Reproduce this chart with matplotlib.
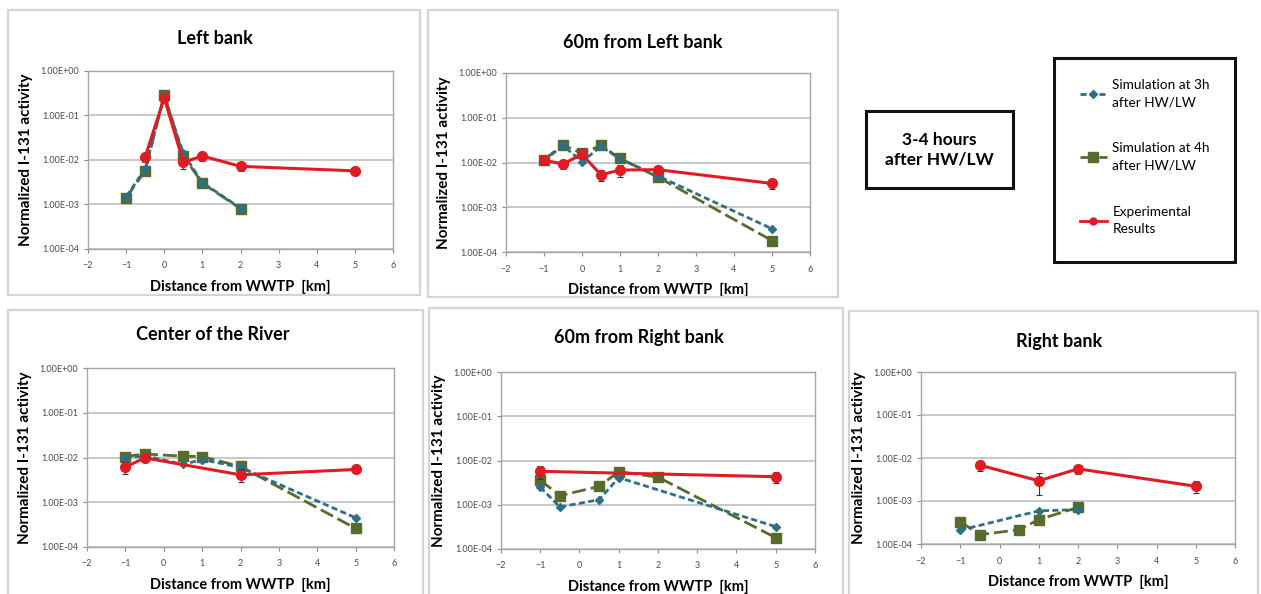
import matplotlib
matplotlib.use("Agg")
import matplotlib.pyplot as plt
from matplotlib.patches import Rectangle
from matplotlib.lines import Line2D
from matplotlib.ticker import FixedLocator, FixedFormatter, NullLocator

plt.rcParams['font.family'] = ['Lato', 'DejaVu Sans']

W, H = 1261, 594

# ---------------- data ----------------
panel_titles = ["Left bank", "60m from Left bank", "Center of the River",
                "60m from Right bank", "Right bank"]

# Panel 1: Left bank
lb_sim3_x = [-1, -0.5, 0, 0.5, 1, 2]
lb_sim3_y = [1.5e-3, 6.3e-3, 0.28, 0.014, 3.1e-3, 8.3e-4]
lb_sim4_x = [-1, -0.5, 0, 0.5, 1, 2]
lb_sim4_y = [1.43e-3, 5.7e-3, 0.295, 0.0123, 3.0e-3, 8.1e-4]
lb_exp_x = [-0.5, 0, 0.5, 1, 2, 5]
lb_exp_y = [0.0117, 0.25, 8.9e-3, 0.0123, 7.2e-3, 5.7e-3]
lb_exp_err = [2.5e-3, 0.04, 2.5e-3, 3.0e-3, 1.5e-3, 1.2e-3]

# Panel 2: 60m from Left bank
l60_sim3_x = [-1, -0.5, 0, 0.5, 1, 2, 5]
l60_sim3_y = [0.011, 0.024, 0.0104, 0.023, 0.012, 5.0e-3, 3.3e-4]
l60_sim4_x = [-1, -0.5, 0, 0.5, 1, 2, 5]
l60_sim4_y = [0.0115, 0.0247, 0.016, 0.024, 0.0123, 4.7e-3, 1.8e-4]
l60_exp_x = [-1, -0.5, 0, 0.5, 1, 2, 5]
l60_exp_y = [0.0112, 9.3e-3, 0.0152, 5.3e-3, 6.8e-3, 6.9e-3, 3.4e-3]
l60_exp_err = [2.5e-3, 2.0e-3, 3.0e-3, 1.5e-3, 2.0e-3, 1.5e-3, 8e-4]

# Panel 3: Center of the River
c_sim3_x = [-1, -0.5, 0.5, 1, 2, 5]
c_sim3_y = [9.5e-3, 0.011, 7.0e-3, 9.0e-3, 6.0e-3, 4.5e-4]
c_sim4_x = [-1, -0.5, 0.5, 1, 2, 5]
c_sim4_y = [0.0105, 0.012, 0.0107, 0.0105, 6.3e-3, 2.6e-4]
c_exp_x = [-1, -0.5, 2, 5]
c_exp_y = [6.1e-3, 9.8e-3, 4.1e-3, 5.4e-3]
c_exp_err = [1.8e-3, 2.0e-3, 1.3e-3, 1.0e-3]

# Panel 4: 60m from Right bank
r60_sim3_x = [-1, -0.5, 0.5, 1, 5]
r60_sim3_y = [2.5e-3, 8.9e-4, 1.3e-3, 4.1e-3, 3.2e-4]
r60_sim4_x = [-1, -0.5, 0.5, 1, 2, 5]
r60_sim4_y = [3.6e-3, 1.6e-3, 2.6e-3, 5.6e-3, 4.2e-3, 1.8e-4]
r60_exp_x = [-1, 5]
r60_exp_y = [5.7e-3, 4.3e-3]
r60_exp_err = [1.8e-3, 1.2e-3]

# Panel 5: Right bank
rb_sim3_x = [-1, 1, 2]
rb_sim3_y = [2.1e-4, 5.9e-4, 6.3e-4]
rb_sim4_x = [-1, -0.5, 0.5, 1, 2]
rb_sim4_y = [3.3e-4, 1.65e-4, 2.15e-4, 3.7e-4, 7.1e-4]
rb_exp_x = [-0.5, 1, 2, 5]
rb_exp_y = [6.8e-3, 2.95e-3, 5.6e-3, 2.2e-3]
rb_exp_err = [1.8e-3, 1.6e-3, 1.3e-3, 7e-4]

x_ticks = [-2, -1, 0, 1, 2, 3, 4, 5, 6]
y_ticks = [1e-4, 1e-3, 1e-2, 1e-1, 1e0]
y_tick_labels = ["1.00E-04", "1.00E-03", "1.00E-02", "1.00E-01", "1.00E+00"]

legend_labels = ["Simulation at 3h\nafter HW/LW", "Simulation at 4h\nafter HW/LW",
                 "Experimental\nResults"]
box_text = "3-4 hours\nafter HW/LW"
xlabel = "Distance from WWTP  [km]"
ylabel = "Normalized I-131 activity"

# ---------------- styles ----------------
C_SIM3 = "#2f6f86"
C_SIM4 = "#566b2c"
C_EXP = "#e01b22"
GRID = "#bfbfbf"

def fbox(x0, y0, x1, y1):
    return [x0 / W, 1 - y1 / H, (x1 - x0) / W, (y1 - y0) / H]

fig = plt.figure(figsize=(W / 100, H / 100), dpi=100)
fig.patch.set_facecolor("white")

panels = [
    dict(frame=(8, 10, 420, 295), ax=(88, 71, 393, 249), title=(215, 38),
         data=(lb_sim3_x, lb_sim3_y, lb_sim4_x, lb_sim4_y, lb_exp_x, lb_exp_y, lb_exp_err)),
    dict(frame=(428, 10, 838, 297), ax=(506, 73, 810, 252), title=(643, 42),
         data=(l60_sim3_x, l60_sim3_y, l60_sim4_x, l60_sim4_y, l60_exp_x, l60_exp_y, l60_exp_err)),
    dict(frame=(8, 310, 423, 600), ax=(87, 368, 394, 547), title=(213, 334),
         data=(c_sim3_x, c_sim3_y, c_sim4_x, c_sim4_y, c_exp_x, c_exp_y, c_exp_err)),
    dict(frame=(429, 308, 843, 600), ax=(501, 372, 815, 549), title=(639, 337),
         data=(r60_sim3_x, r60_sim3_y, r60_sim4_x, r60_sim4_y, r60_exp_x, r60_exp_y, r60_exp_err)),
    dict(frame=(849, 311, 1258, 600), ax=(921, 372, 1235, 544), title=(1059, 342),
         data=(rb_sim3_x, rb_sim3_y, rb_sim4_x, rb_sim4_y, rb_exp_x, rb_exp_y, rb_exp_err)),
]

for i, p in enumerate(panels):
    fx0, fy0, fx1, fy1 = p["frame"]
    fig.patches.append(Rectangle((fx0 / W, 1 - fy1 / H), (fx1 - fx0) / W, (fy1 - fy0) / H,
                                 transform=fig.transFigure, fill=False,
                                 edgecolor="#d4d4d4", lw=1.6, zorder=0))
    ax = fig.add_axes(fbox(*p["ax"]))
    s3x, s3y, s4x, s4y, ex, ey, ee = p["data"]
    ax.set_yscale("log")
    ax.set_ylim(1e-4, 1e0)
    ax.set_xlim(-2, 6)
    ax.yaxis.set_major_locator(FixedLocator(y_ticks))
    ax.yaxis.set_major_formatter(FixedFormatter(y_tick_labels))
    ax.yaxis.set_minor_locator(NullLocator())
    ax.set_xticks(x_ticks)
    ax.tick_params(axis="both", labelsize=6.5, colors="#8a8a8a", labelcolor="#4a4a4a",
                   length=3, width=0.8, direction="out")
    ax.tick_params(axis="x", pad=6)
    ax.grid(axis="y", color=GRID, lw=1.2)
    ax.set_axisbelow(True)
    for s in ax.spines.values():
        s.set_color("#a6a6a6")
        s.set_linewidth(1.0)

    ax.plot(s3x, s3y, color=C_SIM3, lw=2.0, ls=(0, (2.2, 1.2)), marker="D", ms=4,
            mfc=C_SIM3, mec=C_SIM3, zorder=3)
    ax.plot(s4x, s4y, color=C_SIM4, lw=2.0, ls=(0, (5, 1.8)), marker="s", ms=6.5,
            mfc=C_SIM4, mec=C_SIM4, zorder=2)
    ax.errorbar(ex, ey, yerr=ee, color=C_EXP, lw=2.2, marker="o", ms=7,
                ecolor="#333333", elinewidth=0.8, capsize=2, capthick=0.8, zorder=4)

    tx, ty = p["title"]
    fig.text(tx / W, 1 - ty / H, panel_titles[i], ha="center", va="center",
             fontsize=13, fontweight="bold")
    ax.set_xlabel(xlabel, fontsize=10.5, fontweight="bold", labelpad=7)
    ax.set_ylabel(ylabel, fontsize=11, fontweight="bold", labelpad=5)

# text box
tb = (866, 111, 1013, 188)
fig.patches.append(Rectangle((tb[0] / W, 1 - tb[3] / H), (tb[2] - tb[0]) / W, (tb[3] - tb[1]) / H,
                             transform=fig.transFigure, fill=False, edgecolor="#111111",
                             lw=2.2, zorder=5))
fig.text((tb[0] + tb[2]) / 2 / W, 1 - (tb[1] + tb[3]) / 2 / H, box_text, ha="center",
         va="center", fontsize=12.5, fontweight="bold", linespacing=1.25)

# legend box
lb = (1054, 58, 1235, 262)
fig.patches.append(Rectangle((lb[0] / W, 1 - lb[3] / H), (lb[2] - lb[0]) / W, (lb[3] - lb[1]) / H,
                             transform=fig.transFigure, fill=False, edgecolor="#111111",
                             lw=2.2, zorder=5))
handles = [
    Line2D([], [], color=C_SIM3, lw=2.0, ls=(0, (2.2, 1.2)), marker="D", ms=4),
    Line2D([], [], color=C_SIM4, lw=2.0, ls=(0, (5, 1.8)), marker="s", ms=6.5),
    Line2D([], [], color=C_EXP, lw=2.0, marker="o", ms=5),
]
leg = fig.legend(handles, legend_labels, loc="upper left",
                 bbox_to_anchor=(1073 / W, 1 - 72 / H), frameon=False, fontsize=9.8,
                 handlelength=2.0, handletextpad=0.4, labelspacing=2.5, borderpad=0)
for t in leg.get_texts():
    t.set_linespacing(1.55)

fig.savefig("out.png", dpi=100, facecolor="white")
